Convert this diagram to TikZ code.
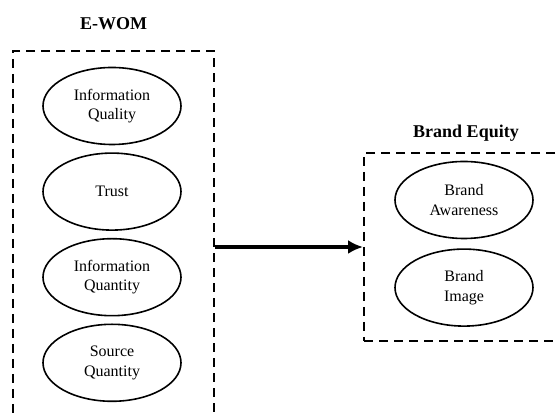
\documentclass[tikz,border=0pt]{standalone}
\usepackage{fontspec}
\setmainfont{Liberation Serif}
\usepackage{tikz}
\usetikzlibrary{positioning,arrows.meta,shapes.geometric}

\begin{document}
\begin{tikzpicture}[
    x=1pt,y=1pt,
    dim/.style={
      draw,ellipse,align=center,line width=1.6pt,
      font=\fontsize{16}{19.5}\selectfont,
      inner sep=0pt,
      minimum height=77pt,minimum width=138pt},
    group/.style={
      draw,line width=2pt,dash pattern=on 9pt off 6pt,
      inner sep=0pt},
    title/.style={font=\fontsize{18}{20}\selectfont\bfseries},
    arr/.style={-{Latex[length=15pt,width=14pt]},line width=4pt}
]
\useasboundingbox (0,0) rectangle (557,414);
\clip (0,0) rectangle (557,414);

% the two dashed groups
\node[group,anchor=north west,minimum width=201pt,minimum height=400pt] (ewom)   at (12,364) {};
\node[group,anchor=north west,minimum width=204pt,minimum height=188pt] (equity) at (363,262) {};

\node[title,above=17pt of ewom.north]   (ewomT)   {E-WOM};
\node[title,above=7pt of equity.north]  (equityT) {Brand Equity};

% E-WOM dimensions
\node[dim] (iql) at (112,308)   {Information\\Quality};
\node[dim,below=7pt of iql]   (trust) {Trust};
\node[dim,below=7pt of trust] (iqn)   {Information\\Quantity};
\node[dim,below=7pt of iqn]   (src)   {Source\\Quantity};

% brand equity dimensions
\node[dim] (aware) at (464,214) {Brand\\Awareness};
\node[dim,below=9pt of aware] (image) {Brand\\Image};

\draw[arr] (ewom.east |- equity.west) -- (equity.west);
\end{tikzpicture}
\end{document}
